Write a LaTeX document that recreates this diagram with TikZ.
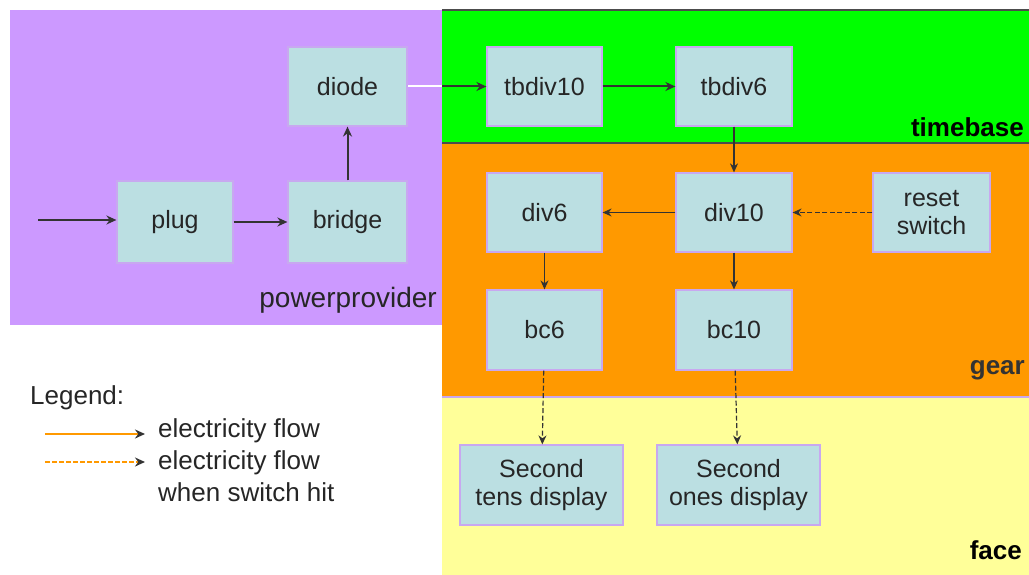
\documentclass[tikz,border=0pt]{standalone}
\usepackage{fontspec}
\setmainfont{Liberation Sans}
\usetikzlibrary{arrows.meta}
\definecolor{ppurple}{HTML}{CC99FF}
\definecolor{tbgreen}{HTML}{00FF00}
\definecolor{gearorange}{HTML}{FF9900}
\definecolor{faceyellow}{HTML}{FFFF99}
\definecolor{boxfill}{HTML}{BBDFE2}
\definecolor{boxedge}{HTML}{C8A8F0}
\definecolor{flowline}{HTML}{333333}
\tikzset{
  region/.style={draw=none, inner sep=0pt, anchor=north west},
  block/.style={draw=boxedge, line width=1.2pt, fill=boxfill, inner sep=0pt,
    align=center, font=\fontsize{25}{28}\selectfont, text=black!85},
  flow/.style={draw=flowline, line width=2pt, -{Stealth[length=10pt,width=9pt]}},
  thinflow/.style={draw=flowline, line width=1.2pt, -{Stealth[length=9pt,width=8pt]}},
  switchflow/.style={draw=flowline, line width=1.2pt, dash pattern=on 5pt off 2.5pt,
    -{Stealth[length=9pt,width=8pt]}},
  zonelabel/.style={inner sep=0pt, font=\fontsize{28}{32}\selectfont},
  legendtext/.style={inner sep=0pt, anchor=west, align=left,
    font=\fontsize{26}{32}\selectfont, text=black!85},
  legendtip/.style={-{Stealth[length=10pt,width=9pt,color=black!80]}},
}
\begin{document}
\begin{tikzpicture}[x=1pt,y=-1pt]
  % page
  \fill[white] (0,0) rectangle (1029,575);
  \useasboundingbox (0,0) rectangle (1029,575);

  % coloured zones
  \node[region, fill=ppurple, minimum width=432pt, minimum height=315pt] (power) at (10,10) {};
  \node[region, fill=tbgreen, minimum width=587pt, minimum height=133pt] (timebase) at (442,10) {};
  \node[region, fill=gearorange, minimum width=587pt, minimum height=254pt] (gear) at (442,143) {};
  \node[region, fill=faceyellow, minimum width=587pt, minimum height=178pt] (face) at (442,397) {};
  \draw[black!70, line width=1.2pt] (timebase.north west) -- (timebase.north east);
  \draw[black!70, line width=1.2pt] (gear.north west) -- (gear.north east);
  \draw[boxedge, line width=1.2pt] (face.north west) -- (face.north east);

  % zone names
  \node[zonelabel, anchor=east, text=black!85] at (437,300) {powerprovider};
  \node[zonelabel, anchor=east, font=\fontsize{26}{30}\selectfont\bfseries] at (1024,127) {timebase};
  \node[zonelabel, anchor=east, font=\fontsize{26}{30}\selectfont\bfseries, text=black!80] at (1025,370) {gear};
  \node[zonelabel, anchor=east, font=\fontsize{26}{30}\selectfont\bfseries] at (1022,550) {face};

  % power provider
  \node[block, minimum width=119pt, minimum height=79pt] (diode) at (347.5,86.5) {diode};
  \node[block, minimum width=116pt, minimum height=82pt] (plug) at (175,222) {plug};
  \node[block, minimum width=119pt, minimum height=82pt] (bridge) at (347.5,222) {bridge};

  % time base
  \node[block, minimum width=115pt, minimum height=79pt] (tbdiv10) at (544.5,86.5) {tbdiv10};
  \node[block, minimum width=116pt, minimum height=79pt] (tbdiv6) at (734,86.5) {tbdiv6};

  % gear
  \node[block, minimum width=115pt, minimum height=79pt] (div6) at (544.5,212.5) {div6};
  \node[block, minimum width=116pt, minimum height=79pt] (div10) at (734,212.5) {div10};
  \node[block, minimum width=117pt, minimum height=79pt] (reset) at (931.5,212.5) {reset\\switch};
  \node[block, minimum width=115pt, minimum height=80pt] (bc6) at (544.5,330) {bc6};
  \node[block, minimum width=116pt, minimum height=80pt] (bc10) at (734,330) {bc10};

  % face
  \node[block, minimum width=163pt, minimum height=80pt] (tens) at (541.5,485) {Second\\tens display};
  \node[block, minimum width=163pt, minimum height=80pt] (ones) at (738.5,485) {Second\\ones display};

  % connections
  \coordinate (mains) at (38,220);
  \draw[flow] (mains) -- (mains -| plug.west);
  \draw[flow] (plug) -- (bridge);
  \draw[flow] (bridge) -- (diode);
  \draw[flow] (diode) -- (tbdiv10);
  \draw[white, line width=2pt] (diode.east) -- (diode.east -| power.east);
  \draw[flow] (tbdiv10) -- (tbdiv6);
  \draw[thinflow] (tbdiv6) -- (div10);
  \draw[thinflow] (div10) -- (div6);
  \draw[switchflow] (reset) -- (div10);
  \draw[thinflow] (div6) -- (bc6);
  \draw[thinflow] (div10) -- (bc10);
  \draw[switchflow] (bc6) -- (tens);
  \draw[switchflow] (bc10) -- (ones);

  % legend
  \node[legendtext, anchor=west] (legtitle) at (30,398) {Legend:};
  \coordinate (solidA) at (45,434);
  \coordinate (solidB) at (145,434);
  \coordinate (dashA) at (45,462);
  \coordinate (dashB) at (145,462);
  \draw[gearorange, line width=2pt, legendtip] (solidA) -- (solidB);
  \draw[gearorange, line width=2pt, dash pattern=on 5pt off 2pt, legendtip] (dashA) -- (dashB);
  \node[legendtext] (leg1) at (158,431) {electricity flow};
  \node[legendtext] (leg2) at (158,476) {electricity flow\\when switch hit};
\end{tikzpicture}
\end{document}
